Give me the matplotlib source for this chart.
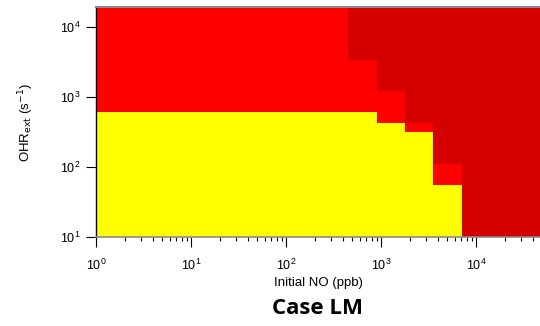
import numpy as np
import matplotlib
matplotlib.use("Agg")
import matplotlib.pyplot as plt
from matplotlib.colors import ListedColormap, BoundaryNorm
from matplotlib.ticker import LogLocator, LogFormatterMathtext, NullLocator

# Cell edges
no_edges = [1, 453, 900, 1790, 3550, 7070, 47200]          # Initial NO (ppb)
ohr_edges = [10, 55, 110, 313, 430, 617, 1230, 3400, 19400]  # OHR_ext (s^-1)

# Regime codes per cell: 0 = yellow, 1 = red, 2 = dark red
# rows follow ohr_edges (bottom -> top), columns follow no_edges (left -> right)
regime = [
    [0, 0, 0, 0, 0, 2],   # 10 - 55
    [0, 0, 0, 0, 1, 2],   # 55 - 110
    [0, 0, 0, 0, 2, 2],   # 110 - 313
    [0, 0, 0, 1, 2, 2],   # 313 - 430
    [0, 0, 1, 2, 2, 2],   # 430 - 617
    [1, 1, 1, 2, 2, 2],   # 617 - 1230
    [1, 1, 2, 2, 2, 2],   # 1230 - 3400
    [1, 2, 2, 2, 2, 2],   # 3400 - top
]
regime_colors = ["#FFFF00", "#FF0000", "#D40000"]

fig = plt.figure(figsize=(5.4, 3.26), dpi=100)
ax = fig.add_axes([96/540, 89/326, 444/540, 230/326])

cmap = ListedColormap(regime_colors)
norm = BoundaryNorm([-0.5, 0.5, 1.5, 2.5], cmap.N)
ax.pcolormesh(no_edges, ohr_edges, np.array(regime), cmap=cmap, norm=norm,
              shading="flat", edgecolors="none")

ax.set_xscale("log")
ax.set_yscale("log")
ax.set_xlim(no_edges[0], no_edges[-1])
ax.set_ylim(ohr_edges[0], ohr_edges[-1])

ax.xaxis.set_major_locator(LogLocator(base=10, numticks=10))
ax.xaxis.set_minor_locator(LogLocator(base=10, subs=np.arange(2, 10), numticks=20))
ax.xaxis.set_major_formatter(LogFormatterMathtext())
ax.yaxis.set_major_locator(LogLocator(base=10, numticks=10))
ax.yaxis.set_minor_locator(NullLocator())
ax.yaxis.set_major_formatter(LogFormatterMathtext())

ax.tick_params(axis="both", which="major", direction="out", length=7, width=0.8,
               labelsize=9, colors="black")
ax.tick_params(axis="x", which="major", pad=8)
ax.tick_params(axis="y", which="major", pad=4)
ax.tick_params(axis="x", which="minor", direction="out", length=3, width=0.8)

for lab in ax.get_xticklabels() + ax.get_yticklabels():
    lab.set_fontfamily("Liberation Sans")

ax.spines["left"].set_color("black")
ax.spines["left"].set_linewidth(1.0)
ax.spines["bottom"].set_color("#8a8a8a")
ax.spines["bottom"].set_linewidth(1.2)
ax.spines["top"].set_color("#8a8a8a")
ax.spines["top"].set_linewidth(1.5)
ax.spines["right"].set_visible(False)

ax.set_xlabel("Initial NO (ppb)", fontsize=9.5, family="Liberation Sans")
ax.xaxis.set_label_coords(0.5, -0.175)
ax.set_ylabel(r"OHR$_{\rm ext}$ (s$^{-1}$)", fontsize=9.5, family="Liberation Sans")
ax.yaxis.set_label_coords(-0.135, 0.5)

fig.text(317/540, 1 - 308/326, "Case LM", ha="center", va="center",
         fontsize=16, fontweight="bold", family="Open Sans")

fig.savefig("out.png", dpi=100)
